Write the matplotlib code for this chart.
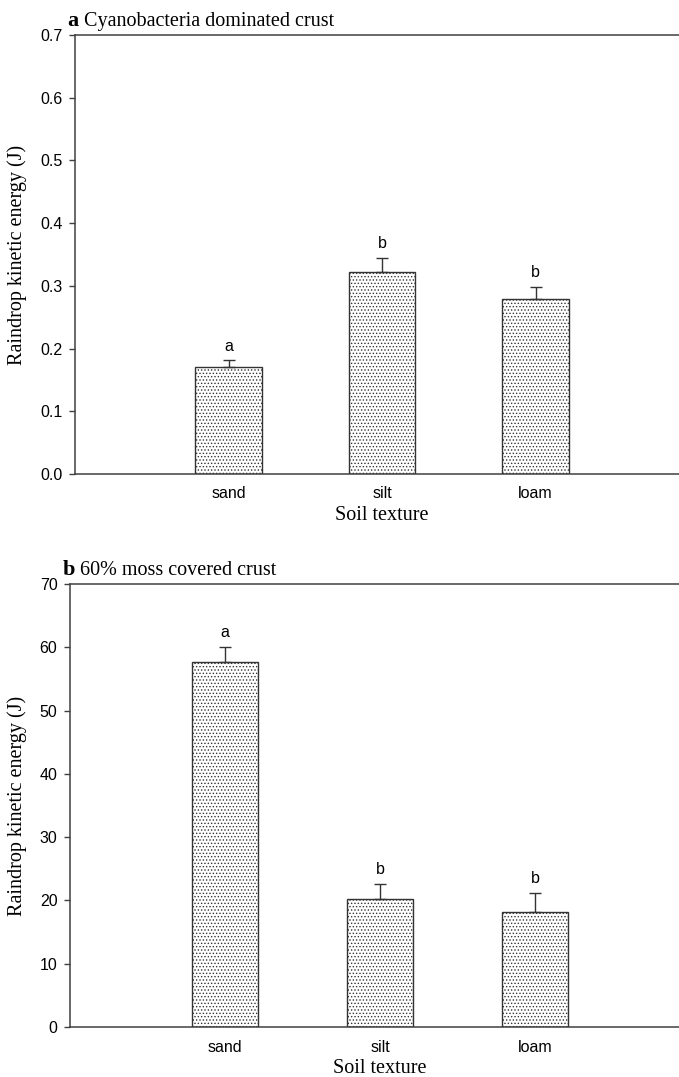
import matplotlib.pyplot as plt
import matplotlib as mpl

mpl.rcParams['hatch.linewidth'] = 0.6
mpl.rcParams['hatch.color'] = '#555555'

categories = ["sand", "silt", "loam"]

# panel a - cyanobacteria dominated crust
vals_a = [0.170, 0.322, 0.279]
err_a = [0.011, 0.023, 0.019]
letters_a = ["a", "b", "b"]

# panel b - 60% moss covered crust
vals_b = [57.7, 20.2, 18.1]
err_b = [2.3, 2.4, 3.1]
letters_b = ["a", "b", "b"]

serif = "Liberation Serif"
sans = "Liberation Sans"

fig = plt.figure(figsize=(6.79, 10.77), dpi=100)

def panel(rect, vals, errs, letters, ymax, ystep, fmt, tag, title):
    ax = fig.add_axes(rect)
    x = [1, 2, 3]
    ax.bar(x, vals, width=0.43, color="white", edgecolor="#333333",
           linewidth=1.0, hatch=".....", zorder=2)
    ax.errorbar(x, vals, yerr=[[0, 0, 0], errs], fmt="none", ecolor="#333333",
                elinewidth=1.0, capsize=4.3, capthick=1.0, zorder=3)
    for xi, v, e, l in zip(x, vals, errs, letters):
        ax.annotate(l, (xi, v + e), xytext=(0, 5), textcoords="offset points",
                    ha="center", va="bottom", fontsize=11.5, family=sans)
    ax.set_xlim(0, 4)
    ax.set_ylim(0, ymax)
    ticks = [i * ystep for i in range(int(round(ymax / ystep)) + 1)]
    ax.set_yticks(ticks)
    ax.set_yticklabels([fmt.format(t) for t in ticks], family=sans, fontsize=11.5)
    ax.set_xticks(x)
    ax.set_xticklabels(categories, family=sans, fontsize=11.5)
    ax.tick_params(axis="x", length=0, pad=9)
    ax.tick_params(axis="y", direction="out", length=4, width=1, color="#404040", pad=5)
    for s in ["left", "bottom", "top"]:
        ax.spines[s].set_color("#404040")
        ax.spines[s].set_linewidth(1.1)
    ax.spines["right"].set_visible(False)
    ax.set_xlabel("Soil texture", family=serif, fontsize=14.5, labelpad=3)
    ax.set_ylabel("Raindrop kinetic energy (J)", family=serif, fontsize=14.5)
    # same x position for both y labels, as in the figure
    ax.yaxis.set_label_coords(17 / 679, 0.5, transform=mpl.transforms.blended_transform_factory(fig.transFigure, ax.transAxes))
    ax.yaxis.label.set_va("center")
    # panel title, bold letter then plain text
    t = ax.text(-0.012, 1.008, tag, transform=ax.transAxes, family=serif,
                fontsize=16, fontweight="bold", ha="left", va="bottom")
    ax.annotate(" " + title, xy=(1, 0), xycoords=t, family=serif, fontsize=14.5,
                ha="left", va="bottom")
    return ax

panel([75 / 679, 1 - 474 / 1077, 614 / 679, 439 / 1077],
      vals_a, err_a, letters_a, 0.7, 0.1, "{:.1f}", "a", "Cyanobacteria dominated crust")
panel([70 / 679, 1 - 1027 / 1077, 620 / 679, 443 / 1077],
      vals_b, err_b, letters_b, 70, 10, "{:.0f}", "b", "60% moss covered crust")

fig.savefig("out.png", dpi=100)
